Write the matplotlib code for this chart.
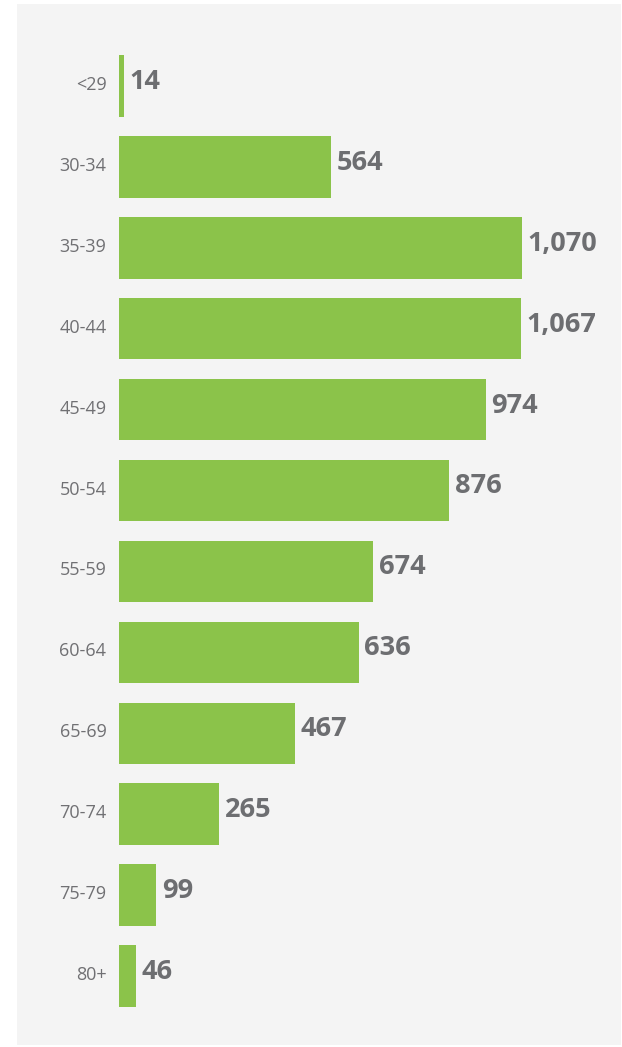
import matplotlib.pyplot as plt
from matplotlib.patches import Rectangle
from matplotlib.transforms import ScaledTranslation

ages = ['<29', '30-34', '35-39', '40-44', '45-49', '50-54',
        '55-59', '60-64', '65-69', '70-74', '75-79', '80+']
counts = [14, 564, 1070, 1067, 974, 876, 674, 636, 467, 265, 99, 46]

W, H = 622, 1047
fig = plt.figure(figsize=(W / 100, H / 100), dpi=100)
fig.patch.set_facecolor('white')

# light grey panel behind the chart
fig.patches.append(Rectangle((17 / W, 1 - 1045 / H), (621 - 17) / W, (1045 - 4) / H,
                             transform=fig.transFigure, facecolor='#f4f4f4',
                             edgecolor='none', zorder=-10))

ax = fig.add_axes([119 / W, 1 - 1016.5 / H, (600 - 119) / W, (1016.5 - 45.5) / H])
ax.set_facecolor('none')
ax.set_zorder(1)

pos = list(range(len(ages)))
ax.barh(pos, counts, height=0.76, color='#8bc34a')
ax.set_xlim(0, 1277)
ax.set_ylim(len(ages) - 0.5, -0.5)

for p, v in zip(pos, counts):
    ax.text(v + 15, p - 0.05, f'{v:,}', va='center', ha='left', fontsize=19.5,
            fontweight='bold', color='#6d6e71', family='Open Sans')

ax.set_yticks(pos)
ax.set_yticklabels(ages, fontsize=13, color='#707073', family='Open Sans')
ax.tick_params(axis='y', length=0, pad=9)
# nudge the tick labels up a little, like the original
shift = ScaledTranslation(0, 3 / 100, fig.dpi_scale_trans)
for lbl in ax.get_yticklabels():
    lbl.set_transform(lbl.get_transform() + shift)
ax.set_xticks([])
for s in ax.spines.values():
    s.set_visible(False)

fig.savefig('out.png', dpi=100)
